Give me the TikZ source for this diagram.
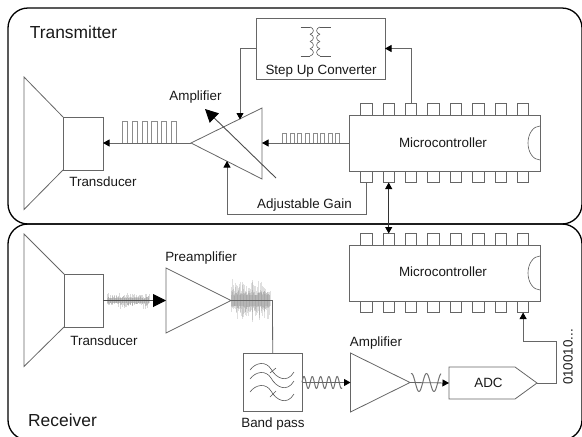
\documentclass[tikz,border=0pt]{standalone}
\usepackage{fontspec}
\setmainfont{Liberation Sans}
\usepackage{tikz}
\usetikzlibrary{arrows.meta}
\usetikzlibrary{positioning}
\tikzstyle{panelnode}=[draw=black, line width=1.3pt, rounded corners=20pt, inner sep=0pt, outer sep=0pt]
\tikzstyle{textnode}=[inner sep=0pt, font=\fontsize{13.4}{16}\selectfont, text=black!90]
\tikzstyle{titlenode}=[inner sep=0pt, font=\fontsize{17.4}{20}\selectfont, text=black!90]

\begin{document}
\begin{tikzpicture}[
 x=1pt, y=-1pt,
 boxnode/.style={rectangle, draw=black!60, fill=white, line width=0.8pt, inner sep=0pt, outer sep=0pt, font=\fontsize{13.4}{16}\selectfont, text=black!90},
 pinnode/.style={rectangle, draw=black!60, fill=white, line width=0.8pt, inner sep=0pt, outer sep=0pt, minimum width=11.4pt, minimum height=11.5pt},
 wire/.style={draw=black!60, line width=0.8pt},
 arrowwire/.style={wire, -{Triangle[length=6.5pt,width=7pt,color=black]}},
 bothwire/.style={draw=black!80, line width=0.8pt, {Triangle[length=6.5pt,width=7pt,color=black]}-{Triangle[length=6.5pt,width=7pt,color=black]}},
 bigwire/.style={draw=black!70, line width=0.9pt, -{Triangle[length=13pt,width=13pt,color=black]}},
 pulseline/.style={draw=black!45, line width=0.8pt},
 waveline/.style={draw=black!55, line width=1pt},
 iconline/.style={draw=black!65, line width=0.6pt},
 ]
 \useasboundingbox (0,0) rectangle (582,437);
 \clip (0,0) rectangle (582,437);

 %Panels
 \node[panelnode, minimum width=574pt, minimum height=216pt] (tx_panel) at (295,116) {};
 \node[panelnode, minimum width=574pt, minimum height=216pt] (rx_panel) at (295,332) {};
 \node[titlenode] (tx_title) at (73.5,32) {Transmitter};
 \node[titlenode] (rx_title) at (62.5,420) {Receiver};

 %Nodes
 \node[boxnode, minimum width=40pt, minimum height=53pt] (tx_transducer) at (83,143.5) {};
 \node[textnode] (tx_transducer_text) at (103,182) {Transducer};
 \node[boxnode, minimum width=129pt, minimum height=61pt] (step_node) at (320.5,48.5) {};
 \node[textnode] (step_text) at (321,71) {Step Up Converter};
 \node[textnode] (tx_amp_text) at (195.5,97) {Amplifier};
 \node[textnode] (gain_text) at (304.5,205) {Adjustable Gain};
 \node[boxnode, minimum width=191pt, minimum height=56pt] (tx_chip) at (444.5,143) {};
 \node[textnode] (tx_chip_text) at (443,143) {Microcontroller};
 \node[boxnode, minimum width=191pt, minimum height=56pt] (rx_chip) at (444.5,273) {};
 \node[textnode] (rx_chip_text) at (443,272) {Microcontroller};

 \node[boxnode, minimum width=39pt, minimum height=53pt] (rx_transducer) at (83.5,300.5) {};
 \node[textnode] (rx_transducer_text) at (104,341) {Transducer};
 \node[textnode] (pre_text) at (201,258) {Preamplifier};
 \node[boxnode, minimum width=58.5pt, minimum height=58pt] (band_node) at (272.7,382.5) {};
 \node[textnode] (band_text) at (273,424) {Band pass};
 \node[textnode] (rx_amp_text) at (376,343) {Amplifier};
 \node[textnode] (adc_text) at (488.5,383) {ADC};
 \node[textnode, rotate=90] (bits_text) at (568,357) {010010...};

 \foreach \chipname in {tx_chip,rx_chip} {
  \foreach \pin in {0,...,7} {
   \node[pinnode, anchor=south] (\chipname_top\pin) at ([xshift=17.3pt+22.4pt*\pin]\chipname.north west) {};
   \node[pinnode, anchor=north] (\chipname_bottom\pin) at ([xshift=17.3pt+22.4pt*\pin]\chipname.south west) {};
  }
  \draw[iconline] (\chipname.east) ++(0,-17) arc[start angle=90, end angle=270, x radius=12pt, y radius=17pt];
 }

 %Points
 \coordinate (tx_amp_tip) at (191,143);
 \coordinate (tx_amp_top) at (262,108);
 \coordinate (tx_amp_bottom) at (262,179);
 \coordinate (tx_amp_in) at (262,143);
 \coordinate (tx_amp_supply) at (240,119.5);
 \coordinate (tx_amp_gain) at (227,161);
 \coordinate (trim_start) at (276,178);
 \coordinate (trim_end) at (205,109);
 \coordinate (pre_in) at (166,300.5);
 \coordinate (pre_top) at (166,268);
 \coordinate (pre_bottom) at (166,333);
 \coordinate (pre_tip) at (231,300.5);
 \coordinate (rx_amp_in) at (350.5,382.5);
 \coordinate (rx_amp_top) at (350.5,353);
 \coordinate (rx_amp_bottom) at (350.5,412);
 \coordinate (rx_amp_tip) at (410,382.5);
 \coordinate (adc_in) at (449,383);
 \coordinate (adc_tip) at (537,383);
 \coordinate (bits_corner) at (556,383);
 \coordinate (bits_turn) at (556,341);

 %Signals
 \foreach \x in {122.3,132.1,141.9,151.7,161.5,171.3} {
  \draw[pulseline] (\x,142.5) -- (\x,121) -- ({\x+5.3},121) -- ({\x+5.3},142.5);
 }
 \foreach \x in {282.5,290.1,...,336} {
  \draw[pulseline, line width=0.7pt] (\x,142.5) -- (\x,133.5) -- ({\x+4},133.5) -- ({\x+4},142.5);
 }
 \pgfmathsetseed{11}
 \foreach \x in {107,107.4,...,149} {
  \pgfmathsetmacro{\noiseup}{2+7*rnd*rnd}
  \pgfmathsetmacro{\noisedown}{2+7*rnd*rnd}
  \draw[black!50, opacity=0.3, line width=0.4pt] (\x,300.5-\noiseup) -- (\x,300.5+\noisedown);
 }
 \foreach \x in {231,231.3,...,270} {
  \pgfmathsetmacro{\noiseup}{5+19*rnd*rnd}
  \pgfmathsetmacro{\noisedown}{5+19*rnd*rnd}
  \draw[black!50, opacity=0.25, line width=0.4pt] (\x,300.5-\noiseup) -- (\x,300.5+\noisedown);
 }
 \draw[waveline] plot[domain=302:342, samples=100] (\x,{382.5-6*cos(360*(\x-304)/8.3)});
 \draw[waveline] plot[domain=411:441, samples=80] (\x,{382.5-9*cos(360*(\x-411.5)/15)});

 %Shapes
 \draw[wire] (tx_transducer.north west) -- (24,77) -- (24,209.5) -- (tx_transducer.south west);
 \draw[wire] (tx_amp_tip) -- (tx_amp_top) -- (tx_amp_bottom) -- cycle;
 \draw[wire] (rx_transducer.north west) -- (24,234) -- (24,366.5) -- (rx_transducer.south west);
 \draw[wire] (pre_top) -- (pre_tip) -- (pre_bottom) -- cycle;
 \draw[wire] (rx_amp_top) -- (rx_amp_tip) -- (rx_amp_bottom) -- cycle;
 \draw[wire] (adc_in |- 0,367) -- (515,367) -- (adc_tip) -- (515,399) -- (adc_in |- 0,399) -- cycle;

 %Transformer
 \draw[iconline] (300.5,27) -- (310,27);
 \draw[iconline] (300.5,56) -- (310,56);
 \draw[iconline] (330.5,27) -- (320,27);
 \draw[iconline] (330.5,56) -- (320,56);
 \foreach \y in {27,34.25,41.5,48.75} {
  \draw[iconline] (310,\y) .. controls (314.5,{\y+1}) and (314.5,{\y+6.25}) .. (310,{\y+7.25});
  \draw[iconline] (320,\y) .. controls (315.5,{\y+1}) and (315.5,{\y+6.25}) .. (320,{\y+7.25});
 }

 %Band pass
 \foreach \y in {0,9,22} {
  \draw[iconline] (250,{370+\y}) .. controls (256,{362+\y}) and (266,{361+\y}) .. (271,{369+\y})
   .. controls (276,{378+\y}) and (287,{384+\y}) .. (294,{372+\y});
 }
 \draw[iconline] (270,373) -- (276,368);
 \draw[iconline] (270,397) -- (276,391);

 %Lines
 \draw[arrowwire] (tx_amp_tip) -- (tx_transducer.east |- tx_amp_tip);
 \draw[arrowwire] (tx_chip.west) -- (tx_amp_in);
 \draw[arrowwire] (step_node.west) -- (step_node.west -| tx_amp_supply) -- (tx_amp_supply);
 \draw[arrowwire] (tx_chip_top2.north) |- (step_node.east);
 \draw[arrowwire] (tx_chip_bottom0.south) |- (227,214) -- (tx_amp_gain);
 \draw[bigwire] (trim_start) -- (trim_end);
 \draw[bothwire] (tx_chip_bottom1.south) -- (rx_chip_top1.north);

 \draw[bigwire, line width=1pt] (rx_transducer.east) -- (pre_in);
 \draw[wire] (pre_tip) -- (272.5,300.5) -- (band_node.north);
 \draw[arrowwire] (band_node.east) -- (rx_amp_in);
 \draw[arrowwire] (rx_amp_tip) -- (adc_in);
 \draw[arrowwire] (adc_tip) -- (bits_corner) -- (bits_turn) -| (rx_chip_bottom7.south);
 \end{tikzpicture}
\end{document}
